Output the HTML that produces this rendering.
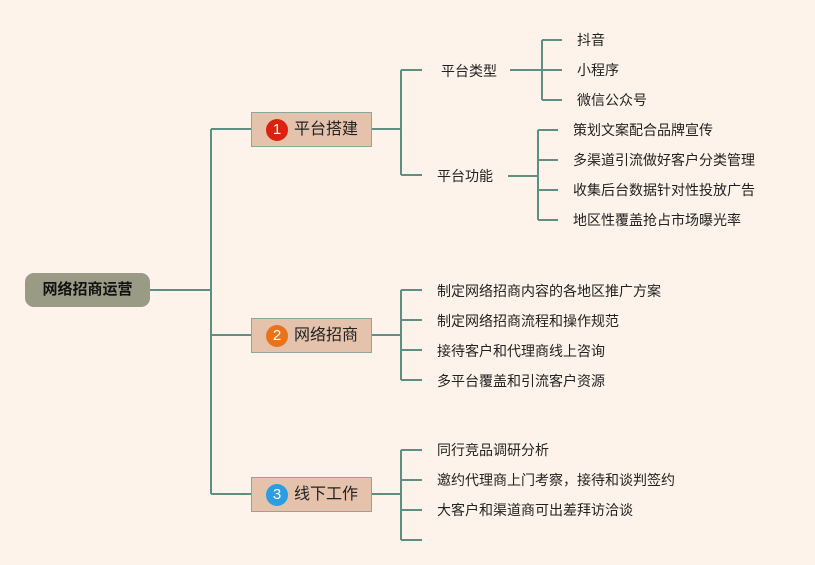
<!DOCTYPE html><html><head><meta charset="utf-8"><style>
body{margin:0;width:815px;height:565px;background:#fdf3ea;font-family:"Liberation Sans","Noto Sans CJK SC",sans-serif;position:relative;overflow:hidden}
.t{position:absolute;font-size:14px;color:#222;line-height:16px;white-space:nowrap}
.b{position:absolute;left:251px;width:119px;height:33px;background:#e4c2ac;border:1px solid #8fa5a0;font-size:16px;color:#222;line-height:33px;box-sizing:content-box}
.c{position:absolute;left:14px;top:6px;width:22px;height:22px;border-radius:50%;color:#fff;font-size:15px;line-height:22px;text-align:center}
.b span.l{position:absolute;left:42px}
</style></head><body>
<svg width="815" height="565" style="position:absolute;left:0;top:0" fill="none" stroke="#5f8f82" stroke-width="2">
<path d="M150 290H211M211 129V494M211 129H251M211 335H251M211 494H251"/>
<path d="M372 129H401M401 70V175M401 70H422M401 175H422"/>
<path d="M510 70H542M542 40V100M542 40H562M542 70H562M542 100H562"/>
<path d="M508 176H538M538 130V220M538 130H558M538 160H558M538 190H558M538 220H558"/>
<path d="M372 335H401M401 290V380M401 290H422M401 320H422M401 350H422M401 380H422"/>
<path d="M372 494H401M401 450V540M401 450H422M401 480H422M401 510H422M401 540H422"/>
</svg>
<div style="position:absolute;left:25px;top:273px;width:125px;height:34px;background:#9a9b85;border-radius:9px;font-size:15px;font-weight:bold;line-height:34px;text-align:center;color:#111">网络招商运营</div>
<div class="b" style="top:112px"><div class="c" style="background:#d9230f">1</div><span class="l">平台搭建</span></div>
<div class="b" style="top:318px"><div class="c" style="background:#e8731a">2</div><span class="l">网络招商</span></div>
<div class="b" style="top:477px"><div class="c" style="background:#2b9de0">3</div><span class="l">线下工作</span></div>
<div class="t" style="left:441px;top:63px">平台类型</div>
<div class="t" style="left:437px;top:168px">平台功能</div>
<div class="t" style="left:577px;top:32px">抖音</div>
<div class="t" style="left:577px;top:62px">小程序</div>
<div class="t" style="left:577px;top:92px">微信公众号</div>
<div class="t" style="left:573px;top:122px">策划文案配合品牌宣传</div>
<div class="t" style="left:573px;top:152px">多渠道引流做好客户分类管理</div>
<div class="t" style="left:573px;top:182px">收集后台数据针对性投放广告</div>
<div class="t" style="left:573px;top:212px">地区性覆盖抢占市场曝光率</div>
<div class="t" style="left:437px;top:283px">制定网络招商内容的各地区推广方案</div>
<div class="t" style="left:437px;top:313px">制定网络招商流程和操作规范</div>
<div class="t" style="left:437px;top:343px">接待客户和代理商线上咨询</div>
<div class="t" style="left:437px;top:373px">多平台覆盖和引流客户资源</div>
<div class="t" style="left:437px;top:442px">同行竞品调研分析</div>
<div class="t" style="left:437px;top:472px">邀约代理商上门考察，接待和谈判签约</div>
<div class="t" style="left:437px;top:502px">大客户和渠道商可出差拜访洽谈</div>
</body></html>
